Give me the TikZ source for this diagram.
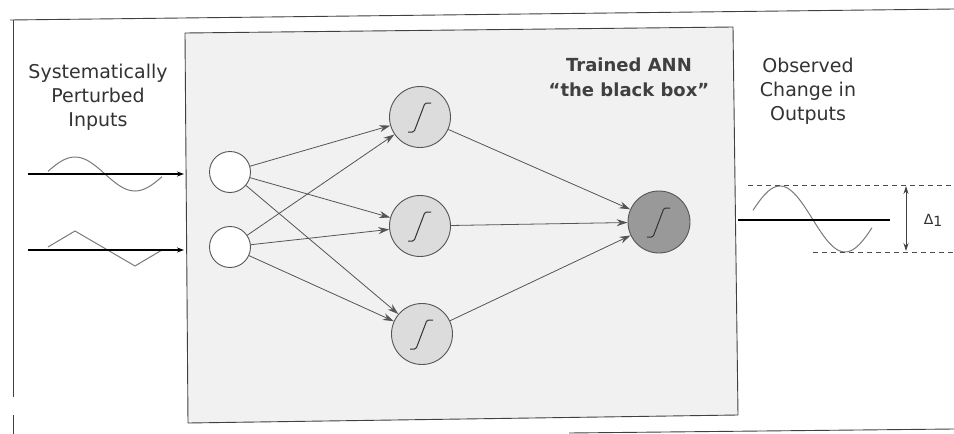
\documentclass[tikz,border=0pt]{standalone}
\usepackage{fontspec}
\setmainfont{DejaVu Sans}
\usetikzlibrary{arrows.meta}
\definecolor{boxfill}{HTML}{F1F1F1}
\definecolor{hidfill}{HTML}{DCDCDC}
\definecolor{outfill}{HTML}{999999}
\definecolor{edge}{HTML}{555555}
\definecolor{wavec}{HTML}{7A7A7A}
\definecolor{txt}{HTML}{333333}
\tikzset{
  framel/.style={draw=black!75, line width=0.9pt},
  neuron/.style={circle, draw=edge, line width=0.9pt, inner sep=0pt},
  inp/.style={neuron, fill=white, minimum size=41pt},
  sigm/.style={path picture={
      \draw[black!80, line width=1pt, rounded corners=1.5pt]
        ([xshift=-12pt,yshift=-15pt]path picture bounding box.center)
        -- ++(6pt,0pt) -- ++(11pt,29pt) -- ++(6pt,0pt);}},
  hid/.style={neuron, sigm, fill=hidfill, minimum size=61pt},
  outn/.style={neuron, sigm, fill=outfill, minimum size=62pt},
  conn/.style={draw=edge, line width=0.8pt, -{Stealth[length=11pt,width=7pt]}},
  inline/.style={draw=black, line width=1.8pt, -{Stealth[length=7pt,width=5pt]}},
  outline/.style={draw=black, line width=1.6pt},
  wave/.style={draw=wavec, line width=1pt},
  dashl/.style={draw=black!70, line width=0.8pt, dash pattern=on 5pt off 4pt},
  lbl/.style={align=center, text=txt, font=\fontsize{19}{24}\selectfont},
  blbl/.style={align=center, text=black!75, font=\bfseries\fontsize{18}{25}\selectfont}
}
\begin{document}
\begin{tikzpicture}[x=1pt,y=-1pt]
\useasboundingbox (0,0) rectangle (954,434);
\fill[white] (0,0) rectangle (954,434);
% outer frame
\draw[framel] (10,20) -- (954,9);
\draw[framel] (13,20) -- (13,397);
\draw[framel] (13,415) -- (13,434);
\draw[framel] (569,433) -- (954,429);
% inner box
\draw[framel, fill=boxfill] (185,33) -- (733,27) -- (738,415) -- (188,423) -- cycle;
% labels
\node[lbl] (tin) at (98,97) {Systematically\\Perturbed\\Inputs};
\node[lbl] (tout) at (808,91) {Observed\\Change in\\Outputs};
\node[blbl] (tann) at (629,77) {Trained ANN\\“the black box”};
% neurons
\node[inp] (i1) at (230,172) {};
\node[inp] (i2) at (230,247) {};
\node[hid] (h1) at (420,117) {};
\node[hid] (h2) at (420,226) {};
\node[hid] (h3) at (422,334) {};
\node[outn] (o) at (659,222) {};
% connections
\foreach \a in {i1,i2}
  \foreach \b in {h1,h2,h3}
    \draw[conn] (\a) -- (\b);
\foreach \b in {h1,h2,h3}
  \draw[conn] (\b) -- (o);
% input signals
\draw[wave] plot[domain=48:162, samples=60, smooth] (\x,{174-17*sin((\x-45)*3)});
\draw[wave] (48,247) -- (75,231) -- (135,266) -- (162,250);
\coordinate (s1) at (28,174);
\coordinate (e1) at (184,174);
\coordinate (s2) at (28,250);
\coordinate (e2) at (184,250);
\draw[inline] (s1) -- (e1);
\draw[inline] (s2) -- (e2);
% output signal
\draw[wave] plot[domain=5.5:124.5, samples=60, smooth] ({747.5+\x},{219-33*sin(\x*2.7692)});
\coordinate (os) at (738,220);
\coordinate (oe) at (890,220);
\draw[outline] (os) -- (oe);
\coordinate (d1s) at (748,185);
\coordinate (d1e) at (954,185);
\coordinate (d2s) at (813,252);
\coordinate (d2e) at (954,252);
\draw[dashl] (d1s) -- (d1e);
\draw[dashl] (d2s) -- (d2e);
\coordinate (at) at (906,186);
\coordinate (ab) at (906,251);
\draw[draw=black!75, line width=0.8pt, {Stealth[length=8pt,width=5pt]}-{Stealth[length=8pt,width=5pt]}] (at) -- (ab);
\node[text=txt, font=\fontsize{14}{16}\selectfont] (dl) at (933,220) {Δ\raisebox{-2pt}{1}};
\end{tikzpicture}
\end{document}
